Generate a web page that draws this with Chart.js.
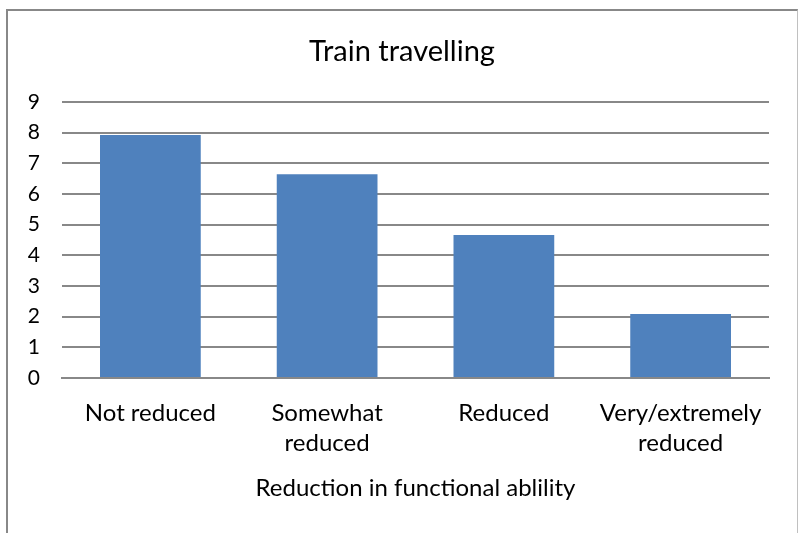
<!DOCTYPE html>
<html>
<head>
<meta charset="utf-8">
<title>Train travelling</title>
<script src="https://cdn.jsdelivr.net/npm/chart.js@4/dist/chart.umd.min.js"></script>
<style>
  html, body { margin: 0; padding: 0; background: #fff; overflow: hidden; }
  #wrap { position: relative; width: 798px; height: 533px; }
  #frame {
    position: absolute; left: 6px; top: 9px; width: 789px; height: 600px;
    border-top: 2px solid #888; border-left: 2px solid #888; border-right: 1px solid #c0c0c0;
    pointer-events: none;
  }
  canvas { position: absolute; left: 0; top: 0; }
</style>
</head>
<body>
<div id="wrap">
  <canvas id="chart" width="798" height="533"></canvas>
  <div id="frame"></div>
</div>
<script>
// categories and values
const categories = ['Not reduced', ['Somewhat', 'reduced'], 'Reduced', ['Very/extremely', 'reduced']];
const values = [7.92, 6.64, 4.66, 2.09];
const yTicks = [0, 1, 2, 3, 4, 5, 6, 7, 8, 9];

const FONT = 'Lato, "Open Sans", sans-serif';
const gridGray = '#888888';

new Chart(document.getElementById('chart'), {
  type: 'bar',
  data: {
    labels: categories,
    datasets: [{
      label: 'Train travelling',
      data: values,
      backgroundColor: '#4f81bd',
      borderWidth: 0,
      barPercentage: 0.57,
      categoryPercentage: 1
    }]
  },
  options: {
    responsive: false,
    animation: false,
    layout: { padding: { left: 6, right: 0, top: 0, bottom: 0 } },
    plugins: {
      legend: { display: false },
      tooltip: { enabled: false },
      title: {
        display: true,
        text: 'Train travelling',
        color: '#000',
        font: { family: FONT, size: 29, weight: 'normal', lineHeight: 1.2 },
        padding: { top: 34.6, bottom: 32.6 }
      }
    },
    scales: {
      y: {
        min: 0,
        max: 9,
        afterFit: s => { s.width = 56; },
        afterBuildTicks: s => { s.ticks = yTicks.map(v => ({ value: v })); },
        grid: { color: gridGray, lineWidth: 2, drawTicks: false },
        border: { display: false },
        ticks: { color: '#000', font: { family: FONT, size: 21 }, padding: 22 }
      },
      // empty right-hand margin so the plot stops short of the frame
      spacer: {
        type: 'linear',
        position: 'right',
        afterFit: s => { s.width = 29; },
        grid: { display: false, drawTicks: false },
        border: { display: false },
        ticks: { display: false }
      },
      x: {
        afterFit: s => { s.height = 155; },
        grid: { display: false, drawTicks: false },
        border: { color: gridGray, width: 2 },
        ticks: {
          color: '#000',
          font: { family: FONT, size: 24, lineHeight: 1.25 },
          padding: 20,
          maxRotation: 0,
          autoSkip: false
        },
        title: {
          display: true,
          text: 'Reduction in functional ablility',
          color: '#000',
          font: { family: FONT, size: 24, lineHeight: 1.2 },
          padding: { top: 0, bottom: 30.6 }
        }
      }
    }
  }
});
</script>
</body>
</html>
